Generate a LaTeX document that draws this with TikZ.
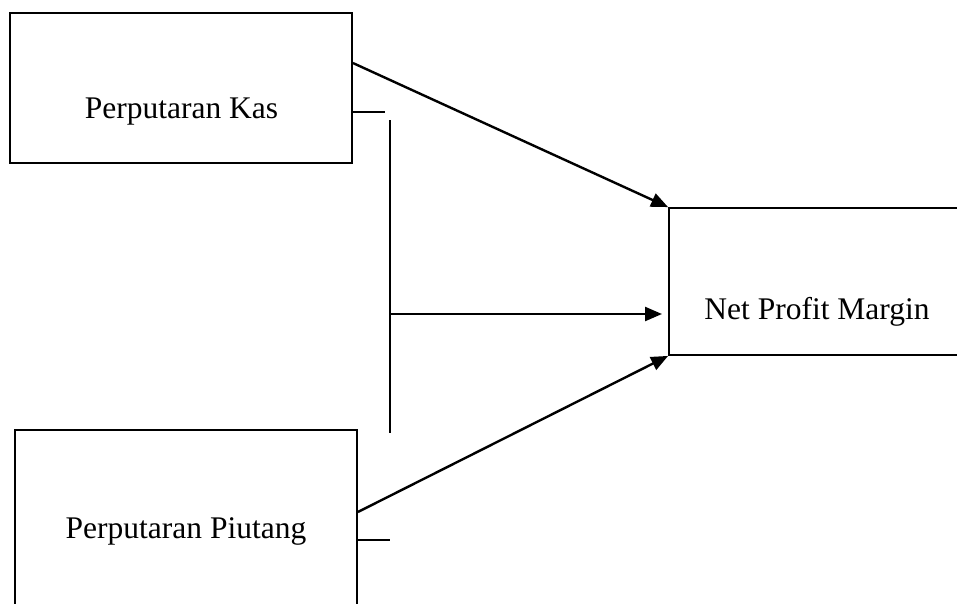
\documentclass[tikz,border=0pt]{standalone}
\usepackage{fontspec}
\setmainfont{Liberation Serif}
\usetikzlibrary{positioning,arrows.meta}

\begin{document}
\begin{tikzpicture}[x=1pt, y=-1pt,
    box/.style={draw, line width=1.8pt, minimum width=342pt, minimum height=150pt, inner sep=0pt},
    lbl/.style={font=\fontsize{31.5}{38}\selectfont, anchor=base, inner sep=0pt},
    link/.style={line width=2.2pt},
    arr/.style={line width=2.4pt, -{Triangle[length=17pt,width=14pt]}}]
    \clip (0,0) rectangle (957,603);
    \node[box] (kas) at (181,88) {};
    \node[box, minimum width=297pt, minimum height=147pt] (npm) at (817.5,281.5) {};
    \node[box, minimum height=200pt] (piutang) at (186,530) {};
    \node[lbl] (kaslbl) at (181.5,118) {Perputaran Kas};
    \node[lbl] (npmlbl) at (817,319) {Net Profit Margin};
    \node[lbl] (piutanglbl) at (186,538) {Perputaran Piutang};
    \coordinate (bartop) at (390,120);
    \coordinate (barbot) at (390,433);
    \coordinate (barmid) at (390,314);
    \coordinate (npmin) at (662,314);
    \coordinate (kasstub) at (385,112);
    \coordinate (piutangstub) at (390,540);
    \draw[arr] ([yshift=25pt]kas.east) -- (npm.north west);
    \draw[arr] ([yshift=18pt]piutang.east) -- (npm.south west);
    \draw[arr] (barmid) -- (npmin);
    \draw[link] (bartop) -- (barbot);
    \draw[link] ([yshift=-24pt]kas.east) -- (kasstub);
    \draw[link] ([yshift=-10pt]piutang.east) -- (piutangstub);
\end{tikzpicture}
\end{document}
